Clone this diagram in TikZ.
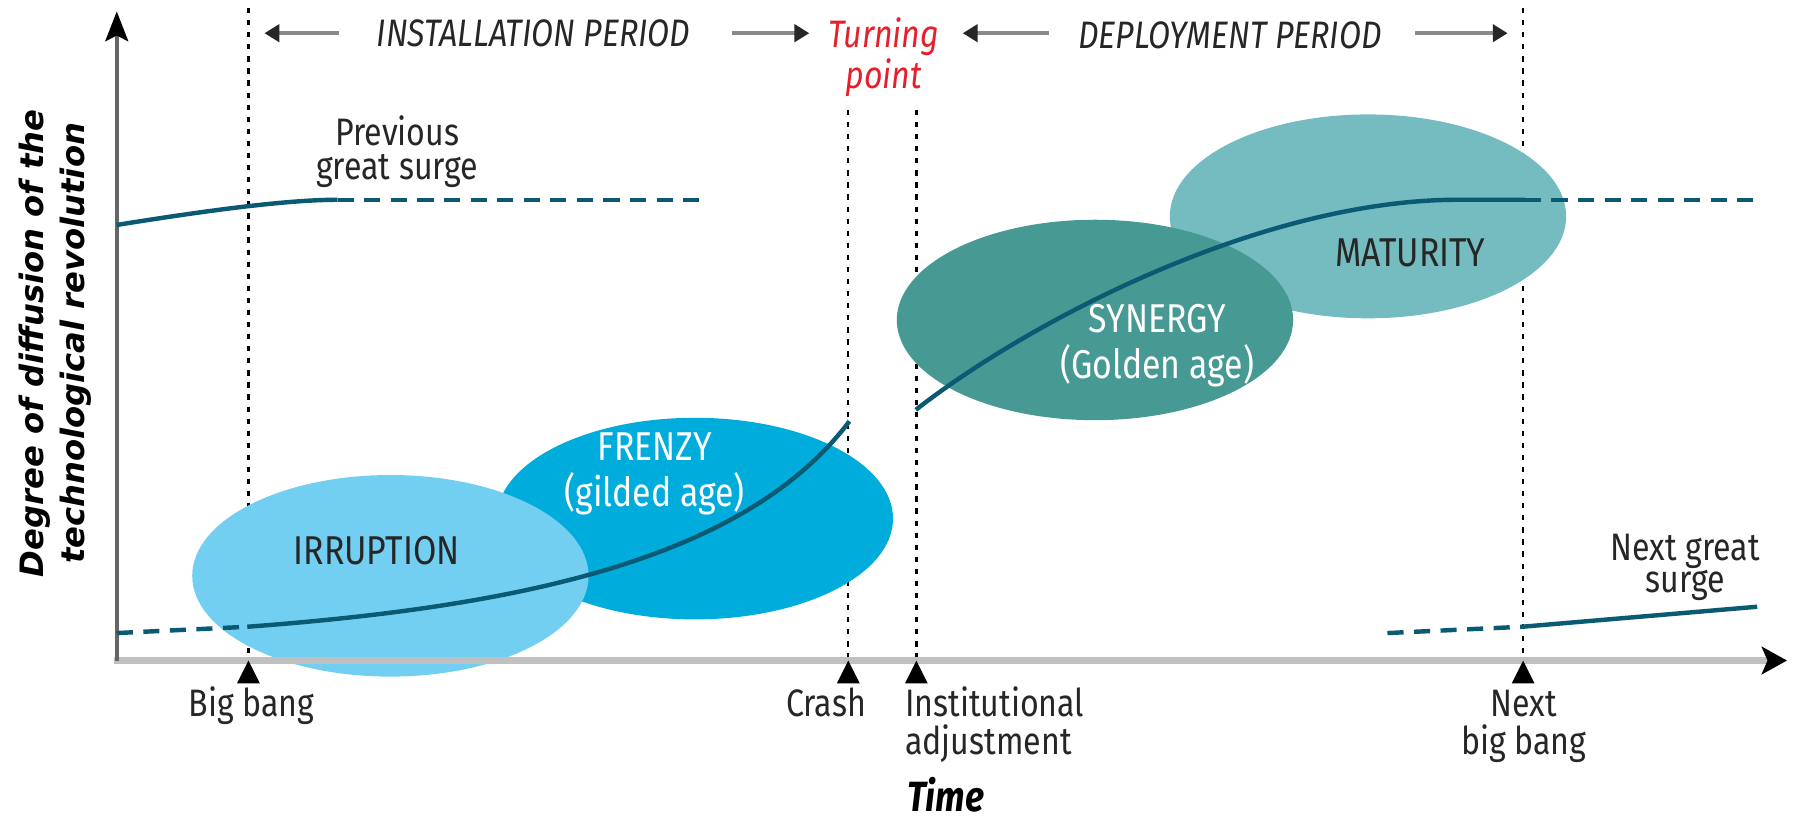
\documentclass[tikz,border=0pt]{standalone}
\usepackage{fontspec}
\setmainfont{Fira Sans}[FakeStretch=0.84]
\newfontfamily\ylabfont{DejaVu Sans}
\usetikzlibrary{arrows.meta}
\definecolor{irrcol}{HTML}{73CFF2}
\definecolor{frzcol}{HTML}{00ACDC}
\definecolor{syncol}{HTML}{479A93}
\definecolor{matcol}{HTML}{74BCBF}
\definecolor{curvecol}{HTML}{0B5A73}
\definecolor{tpred}{HTML}{E6202B}
\definecolor{txtdark}{HTML}{262626}
\definecolor{axisgrey}{HTML}{C0C0C0}
\definecolor{shaftgrey}{HTML}{8A8A8A}
\begin{document}
\begin{tikzpicture}[x=0.01cm,y=-0.01cm,
  lbl/.style={inner sep=0pt, align=center, text=txtdark, anchor=base},
  toplbl/.style={lbl, font=\itshape\fontsize{9.5}{10.2}\selectfont},
  axlbl/.style={lbl, font=\fontsize{9.5}{9.5}\selectfont},
  elbl/.style={lbl, font=\fontsize{10}{11.4}\selectfont},
  vdots/.style={black, line width=0.6pt, dash pattern=on 1.3pt off 1.7pt},
  periodarrow/.style={shaftgrey, line width=1.1pt, -{Triangle[length=0.13cm,width=0.15cm,color=txtdark]}},
  curve/.style={curvecol, line width=1.1pt},
  dashcurve/.style={curve, dash pattern=on 4pt off 2.6pt},
  marker/.style={fill=black}
]
\useasboundingbox (0,0) rectangle (1568,715);

% key coordinates
\coordinate (O) at (102,577);
\coordinate (xtip) at (1561,577);
\coordinate (ytip) at (102,10);
\coordinate (bb) at (217,577);   \coordinate (bbtop) at (217,7);
\coordinate (cr) at (741,577);   \coordinate (crtop) at (741,96);
\coordinate (ia) at (800.5,577); \coordinate (iatop) at (800.5,96);
\coordinate (nb) at (1330.5,577);\coordinate (nbtop) at (1330.5,7);

% dotted verticals
\draw[vdots] (bbtop) -- (bb);
\draw[vdots] (crtop) -- (cr);
\draw[vdots] (iatop) -- (ia);
\draw[vdots] (nbtop) -- (nb);

% phase ellipses
\fill[frzcol] (607,453) ellipse [x radius=1.73cm, y radius=0.88cm];
\fill[irrcol] (341,503) ellipse [x radius=1.73cm, y radius=0.88cm];
\fill[matcol] (1195,189) ellipse [x radius=1.73cm, y radius=0.89cm];
\fill[syncol] (956.5,279.5) ellipse [x radius=1.73cm, y radius=0.875cm];

% axes
\draw[axisgrey, line width=1.6pt, -{Stealth[length=0.22cm,width=0.24cm,inset=0.05cm,color=black]}] (100,577) -- (xtip);
\draw[black!60, line width=0.9pt, -{Stealth[length=0.26cm,width=0.2cm,inset=0.05cm,color=black]}] (O) -- (ytip);

% event markers
\fill[marker] (bb) -- ++(-10,20) -- ++(20,0) -- cycle;
\fill[marker] (cr) -- ++(-10,20) -- ++(20,0) -- cycle;
\fill[marker] (ia) -- ++(-10,20) -- ++(20,0) -- cycle;
\fill[marker] (nb) -- ++(-10,20) -- ++(20,0) -- cycle;

% surge curves
\coordinate (ps0) at (102,196.5); \coordinate (ps1) at (295,174.5); \coordinate (ps2) at (611,174.5);
\coordinate (is0) at (102,553);   \coordinate (is1) at (216,547.5); \coordinate (is2) at (742,368);
\coordinate (ds0) at (800,358);   \coordinate (ds1) at (1270,174.5);\coordinate (ds2) at (1332,174.5); \coordinate (ds3) at (1533,174.5);
\coordinate (ns0) at (1212,553);  \coordinate (ns1) at (1329.5,547.5); \coordinate (ns2) at (1535,530);

\draw[curve] (ps0) .. controls (180,184) and (250,174.5) .. (ps1);
\draw[dashcurve] (ps1) -- (ps2);
\draw[dashcurve] (is0) -- (is1);
\draw[curve] (is1) .. controls (450,530) and (650,490) .. (is2);
\draw[curve] (ds0) .. controls (900,280) and (1100,176) .. (ds1) -- (ds2);
\draw[dashcurve] (ds2) -- (ds3);
\draw[dashcurve] (ns0) -- (ns1);
\draw[curve] (ns1) -- (ns2);

% period arrows
\coordinate (ial-s) at (296,29);  \coordinate (ial-e) at (231,29);
\coordinate (iar-s) at (639,29);  \coordinate (iar-e) at (707,29);
\coordinate (dpl-s) at (916,29);  \coordinate (dpl-e) at (841,29);
\coordinate (dpr-s) at (1236,29); \coordinate (dpr-e) at (1317,29);
\draw[periodarrow] (ial-s) -- (ial-e);
\draw[periodarrow] (iar-s) -- (iar-e);
\draw[periodarrow] (dpl-s) -- (dpl-e);
\draw[periodarrow] (dpr-s) -- (dpr-e);

% top labels (anchor=base = baseline of last line)
\node[toplbl] (inst) at (466,41) {INSTALLATION PERIOD};
\node[toplbl] (depl) at (1074.5,42) {DEPLOYMENT PERIOD};
\node[toplbl, text=tpred] (turn) at (772,77) {Turning\\point};

% ellipse labels
\node[elbl] (irrl) at (329,493.5) {IRRUPTION};
\node[elbl, text=white] (frzl) at (572,442.6) {FRENZY\\(gilded age)};
\node[elbl, text=white] (synl) at (1011,330.5) {SYNERGY\\(Golden age)};
\node[elbl] (matl) at (1232,233) {MATURITY};

% surge labels
\node[axlbl, font=\fontsize{9.5}{8.5}\selectfont] (prevl) at (347,157) {Previous\\great surge};
\node[axlbl, font=\fontsize{9.5}{8}\selectfont] (nextl) at (1472,517.7) {Next great\\surge};

% axis event labels
\node[axlbl] (bbl) at (219.5,626) {Big bang};
\node[axlbl] (crl) at (721.5,626) {Crash};
\node[axlbl, anchor=base west, align=left] (inl) at (790,659.5) {Institutional\\adjustment};
\node[axlbl] (nbl) at (1331,659) {Next\\big bang};

% axis titles
\node[lbl, font=\bfseries\itshape\fontsize{10.5}{12}\selectfont, text=black] (timel) at (826,709) {Time};
\node[lbl, rotate=90, text=black, font=\ylabfont\bfseries\itshape\fontsize{8}{10.2}\selectfont] (ylab) at (74,300) {Degree of diffusion of the\\technological revolution};
\end{tikzpicture}
\end{document}
